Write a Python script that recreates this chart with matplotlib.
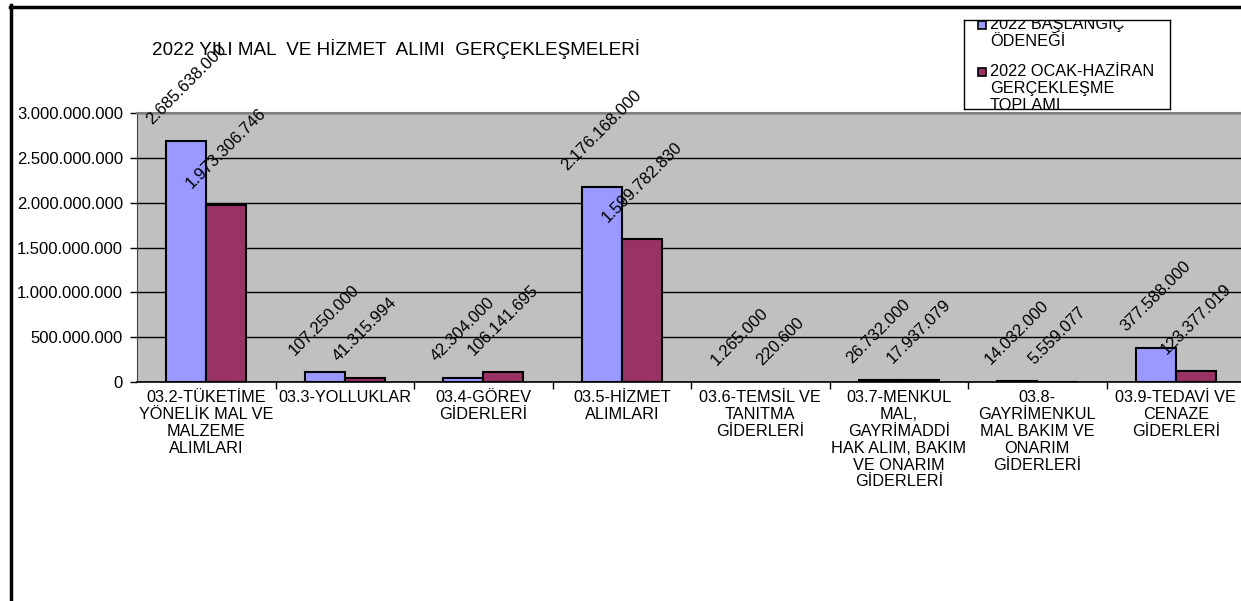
import numpy as np
import matplotlib
matplotlib.use('Agg')
import matplotlib.pyplot as plt
from matplotlib.lines import Line2D
from matplotlib.patches import Rectangle

plt.rcParams['font.family'] = ['Liberation Sans', 'DejaVu Sans']

# data
categories = [
    "03.2-TÜKETİME\nYÖNELİK MAL VE\nMALZEME\nALIMLARI",
    "03.3-YOLLUKLAR",
    "03.4-GÖREV\nGİDERLERİ",
    "03.5-HİZMET\nALIMLARI",
    "03.6-TEMSİL VE\nTANITMA\nGİDERLERİ",
    "03.7-MENKUL\nMAL,\nGAYRİMADDİ\nHAK ALIM, BAKIM\nVE ONARIM\nGİDERLERİ",
    "03.8-\nGAYRİMENKUL\nMAL BAKIM VE\nONARIM\nGİDERLERİ",
    "03.9-TEDAVİ VE\nCENAZE\nGİDERLERİ",
]
baslangic = [2685638000, 107250000, 42304000, 2176168000, 1265000, 26732000, 14032000, 377588000]
gerceklesme = [1973306746, 41315994, 106141695, 1599782830, 220600, 17937079, 5559077, 123377019]
y_ticks = [0, 500000000, 1000000000, 1500000000, 2000000000, 2500000000, 3000000000]
legend_labels = ["2022 BAŞLANGIÇ\nÖDENEĞİ", "2022 OCAK-HAZİRAN\nGERÇEKLEŞME\nTOPLAMI"]
title = "2022 YILI MAL  VE HİZMET  ALIMI  GERÇEKLEŞMELERİ"

blue = '#9999FF'
red = '#993366'


def fmt(v):
    return f"{int(v):,}".replace(",", ".")


W, H = 1241, 601
fig = plt.figure(figsize=(W / 100, H / 100), dpi=100)

# plot area
ax = fig.add_axes([137 / W, 1 - 382 / H, (1245 - 137) / W, (382 - 113) / H])
ax.set_facecolor('#C0C0C0')
ax.set_xlim(-0.5, 7.5)
ax.set_ylim(0, 3000000000)

x = np.arange(len(categories))
w = 0.29
ax.bar(x - w / 2, baslangic, w, color=blue, edgecolor='black', lw=1.5, zorder=3)
ax.bar(x + w / 2, gerceklesme, w, color=red, edgecolor='black', lw=1.5, zorder=3)

for xi, v in zip(x - w / 2, baslangic):
    ax.annotate(fmt(v), (xi, v), xytext=(0, 10), textcoords='offset points',
                ha='center', va='bottom', rotation=45, fontsize=12, zorder=5,
                annotation_clip=False)
for xi, v in zip(x + w / 2, gerceklesme):
    ax.annotate(fmt(v), (xi, v), xytext=(0, 10), textcoords='offset points',
                ha='center', va='bottom', rotation=45, fontsize=12, zorder=5,
                annotation_clip=False)

ax.yaxis.grid(True, color='black', lw=1)
ax.set_axisbelow(True)
ax.spines['top'].set_color('#808080')
ax.spines['top'].set_linewidth(1.5)
ax.spines['right'].set_visible(False)
ax.spines['left'].set_color('#404040')
ax.spines['bottom'].set_color('black')
ax.spines['bottom'].set_linewidth(1.2)

ax.set_yticks(y_ticks)
ax.set_yticklabels([fmt(t) for t in y_ticks])
ax.tick_params(axis='y', length=5, width=1, pad=5, labelsize=12, colors='black')

ax.set_xticks(x)
ax.set_xticklabels(categories, linespacing=1.15)
ax.set_xticks(np.arange(0.5, 7, 1), minor=True)
ax.tick_params(axis='x', which='major', length=0, pad=6, labelsize=11.7)
ax.tick_params(axis='x', which='minor', length=5, width=1)

fig.text(152 / W, 1 - 49 / H, title, ha='left', va='center', fontsize=13.6)

# legend box
lax = fig.add_axes([964 / W, 1 - 109 / H, 206 / W, 89 / H])
lax.set_xlim(0, 206)
lax.set_ylim(89, 0)
lax.set_xticks([])
lax.set_yticks([])
for s in lax.spines.values():
    s.set_color('black')
    s.set_linewidth(1)

for i, (lab, col) in enumerate(zip(legend_labels, [blue, red])):
    y0 = 5 + i * 47
    lax.add_patch(Rectangle((14, y0 - 4), 8, 8, facecolor=col, edgecolor='black', lw=1.2))
    for j, line in enumerate(lab.split('\n')):
        lax.text(26, y0 - 1 + j * 17, line, ha='left', va='center', fontsize=11.7, clip_on=True)

# outer frame
fig.add_artist(Line2D([10 / W, 1], [1 - 6.5 / H] * 2, color='black', lw=2.5, transform=fig.transFigure))
fig.add_artist(Line2D([11.3 / W] * 2, [0, 1 - 5 / H], color='black', lw=2.5, transform=fig.transFigure))

fig.savefig('out.png', dpi=100)
